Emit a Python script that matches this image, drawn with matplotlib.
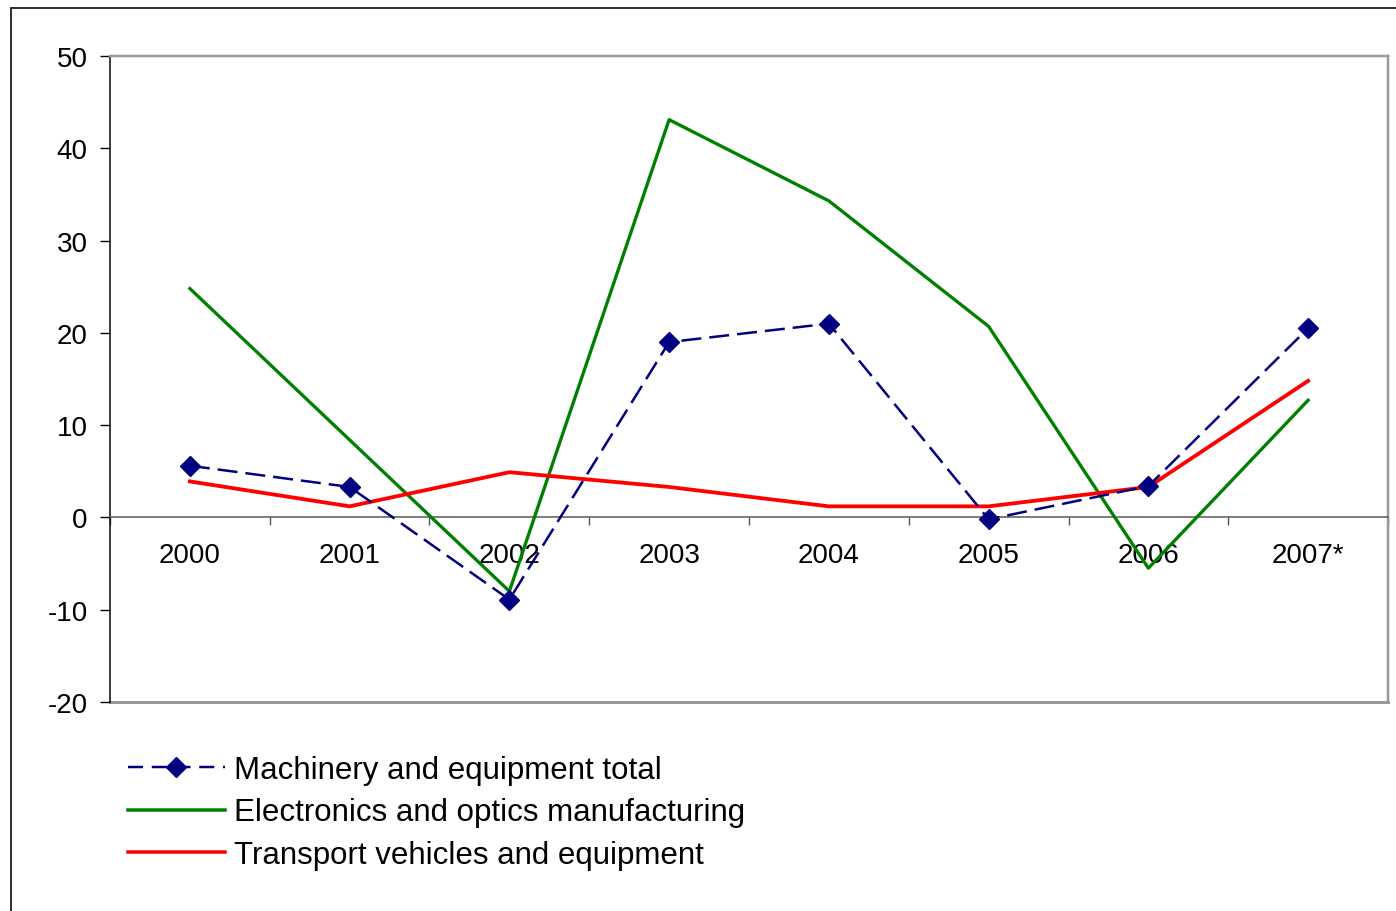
import matplotlib
matplotlib.use("Agg")
import matplotlib.pyplot as plt
from matplotlib.lines import Line2D

plt.rcParams['font.family'] = ['Liberation Sans', 'DejaVu Sans']

years = ["2000", "2001", "2002", "2003", "2004", "2005", "2006", "2007*"]
machinery = [5.6, 3.3, -8.9, 19.0, 21.0, -0.2, 3.4, 20.5]
electronics = [24.8, 8.4, -8.0, 43.1, 34.3, 20.7, -5.5, 12.7]
transport = [3.9, 1.2, 4.9, 3.3, 1.2, 1.2, 3.3, 14.8]
labels = ["Machinery and equipment total",
          "Electronics and optics manufacturing",
          "Transport vehicles and equipment"]
yticks = [-20, -10, 0, 10, 20, 30, 40, 50]

W, H = 1396, 912
fig = plt.figure(figsize=(W / 100, H / 100), dpi=100)
ax = fig.add_axes([110 / W, 1 - 703 / H, (1388 - 110) / W, (703 - 57) / H])

x = list(range(len(years)))
px = 0.72  # points per pixel
ax.plot(x, electronics, color='#008000', lw=3.3 * px, zorder=3)
ax.plot(x, transport, color='#FF0000', lw=3.8 * px, zorder=4)
ax.plot(x, machinery, color='#000080', lw=2.5 * px, ls=(0, (8, 3.2)),
        marker='D', markersize=10, zorder=5)

ax.set_xlim(-0.5, len(years) - 0.5)
ax.set_ylim(-20, 50)
ax.set_yticks(yticks)
ax.set_yticklabels([str(v) for v in yticks])

ax.spines['bottom'].set_position(('data', 0))
ax.spines['bottom'].set_color('#555555')
ax.spines['bottom'].set_linewidth(1.5 * px)
ax.spines['left'].set_color('black')
ax.spines['left'].set_linewidth(1.5 * px)
for s in ['top', 'right']:
    ax.spines[s].set_color('#999999')
    ax.spines[s].set_linewidth(2.5 * px)
ax.axhline(-20, color='#999999', lw=3 * px, zorder=1, clip_on=False)

ax.set_xticks(x)
ax.set_xticklabels(years)
ax.tick_params(axis='x', which='major', length=0, pad=17.5, labelsize=20)
ax.set_xticks([i - 0.5 for i in range(len(years) + 1)], minor=True)
ax.tick_params(axis='x', which='minor', length=6, width=1, color='#555555', direction='out')
ax.tick_params(axis='y', length=7, width=1, color='black', pad=9, labelsize=20)

# outer frame (cut off on right and bottom)
fig.add_artist(Line2D([11 / W, 11 / W], [0, 1 - 9 / H], transform=fig.transFigure,
                      color='#333333', lw=2 * px))
fig.add_artist(Line2D([11 / W, 1], [1 - 9 / H, 1 - 9 / H], transform=fig.transFigure,
                      color='#333333', lw=2 * px))

handles = [
    Line2D([], [], color='#000080', lw=2.5 * px, ls=(0, (6, 3.5)), marker='D', markersize=10),
    Line2D([], [], color='#008000', lw=3.5 * px),
    Line2D([], [], color='#FF0000', lw=3.5 * px),
]
fig.legend(handles, labels, loc='upper left', bbox_to_anchor=(128 / W, 1 - 756 / H),
           frameon=False, fontsize=22.5, handlelength=3.1, handletextpad=0.29,
           labelspacing=0.4, borderpad=0, borderaxespad=0, numpoints=1)

fig.savefig('out.png', dpi=100)
